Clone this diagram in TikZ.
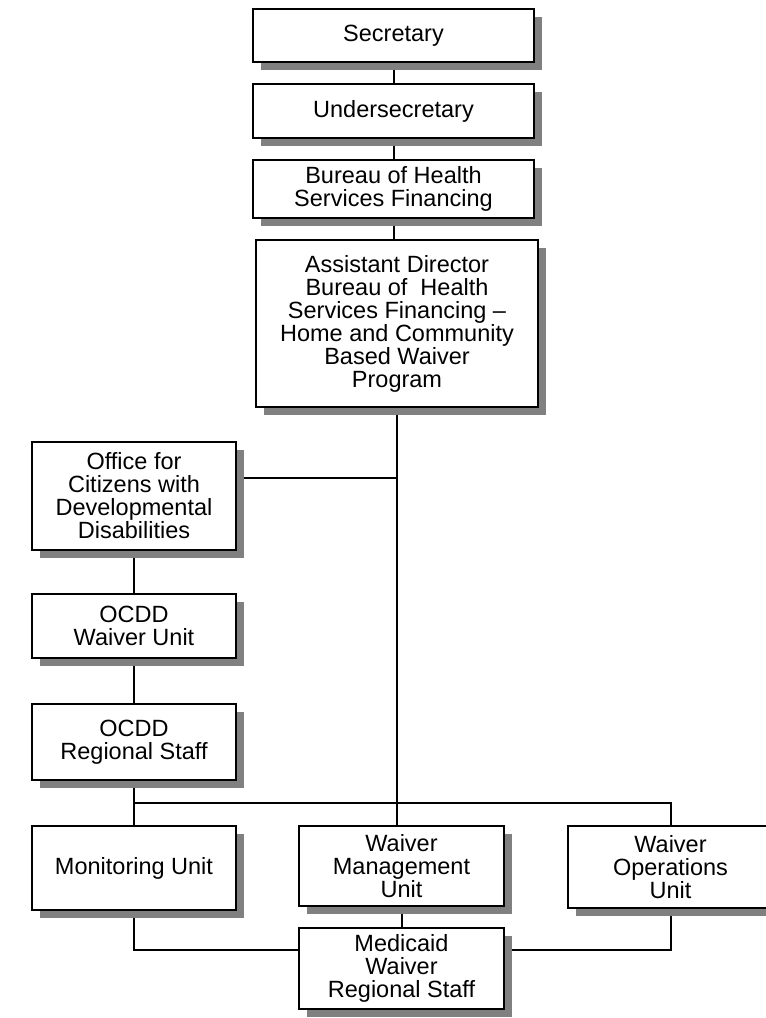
\documentclass[tikz,border=0pt]{standalone}
\usepackage{fontspec}
\setmainfont{Liberation Sans}
\usetikzlibrary{shadows,backgrounds}

\tikzset{
  orgbox/.style={draw=black, line width=2pt, fill=white, align=center, inner sep=2pt,
    font=\fontsize{23.5}{23}\selectfont,
    drop shadow={shadow xshift=7.5pt, shadow yshift=-7.5pt, fill=black!50, opacity=1}},
  orgline/.style={black, line width=2pt}
}

\begin{document}
\begin{tikzpicture}[x=1pt,y=-1pt]
            \useasboundingbox (0,0) rectangle (766,1018);
            \node[orgbox, minimum width=281pt, minimum height=53pt] (sec) at (393.5,35.5) {Secretary};
            \node[orgbox, minimum width=281pt, minimum height=54pt] (under) at (393.5,111) {Undersecretary};
            \node[orgbox, minimum width=281pt, minimum height=58pt] (bhsf) at (393.5,189) {Bureau of Health\\Services Financing};
            \node[orgbox, minimum width=282pt, minimum height=167pt] (asst) at (397,323.5) {Assistant Director\\Bureau of~ Health\\Services Financing --\\Home and Community\\Based Waiver\\Program};
            \node[orgbox, minimum width=204pt, minimum height=108pt] (ocdd) at (134,496) {Office for\\Citizens with\\Developmental\\Disabilities};
            \node[orgbox, minimum width=204pt, minimum height=64pt] (ocddwu) at (134,626) {OCDD\\Waiver Unit};
            \node[orgbox, minimum width=204pt, minimum height=76pt] (ocddrs) at (134,742) {OCDD\\Regional Staff};
            \node[orgbox, minimum width=204pt, minimum height=84pt] (mon) at (134,868) {Monitoring Unit};
            \node[orgbox, minimum width=205pt, minimum height=80pt] (mgmt) at (401.5,866) {Waiver\\Management\\Unit};
            \node[orgbox, minimum width=205pt, minimum height=82pt] (ops) at (670.5,867) {Waiver\\Operations\\Unit};
            \node[orgbox, minimum width=205pt, minimum height=81pt] (med) at (401.5,968.5) {Medicaid\\Waiver\\Regional Staff};
            \coordinate (j1) at (asst.south |- 0,478);
            \coordinate (bus) at (0,803);
            \coordinate (j2) at (0,950);
            \begin{pgfonlayer}{background}
            \draw[orgline] (sec.south) -- (under.north);
            \draw[orgline] (under.south) -- (bhsf.north);
            \draw[orgline] (bhsf.south) -- (bhsf.south |- asst.north);
            \draw[orgline] (asst.south) -- (asst.south |- mgmt.north);
            \draw[orgline] (ocdd.east |- j1) -- (j1);
            \draw[orgline] (ocdd.south) -- (ocddwu.north);
            \draw[orgline] (ocddwu.south) -- (ocddrs.north);
            \draw[orgline] (ocddrs.south) -- (mon.north);
            \draw[orgline] (mon.north |- bus) -- (ops.north |- bus) -- (ops.north);
            \draw[orgline] (mgmt.south) -- (med.north);
            \draw[orgline] (mon.south) |- (med.west |- j2);
            \draw[orgline] (ops.south) |- (med.east |- j2);
            \end{pgfonlayer}
        \end{tikzpicture}
\end{document}
